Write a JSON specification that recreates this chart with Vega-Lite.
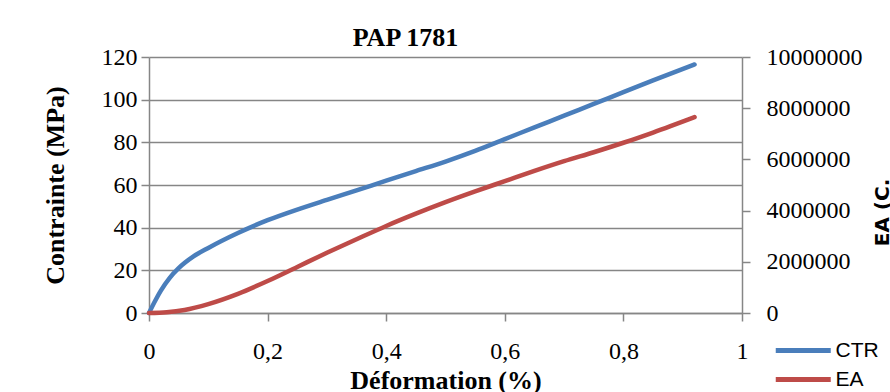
{
  "$schema": "https://vega.github.io/schema/vega-lite/v6.json",
  "width": 593,
  "height": 256,
  "autosize": {"type": "none"},
  "padding": {"left": 149, "top": 57, "right": 148, "bottom": 79},
  "background": "white",
  "title": {
    "text": "PAP 1781",
    "font": "Liberation Serif",
    "fontSize": 26,
    "fontWeight": "bold",
    "color": "black",
    "anchor": "middle",
    "dx": -40,
    "offset": -6
  },
  "data": {
    "values": [
      {"deformation": 0, "serie": "CTR", "valeur": 0},
      {"deformation": 0.01, "serie": "CTR", "valeur": 5.5},
      {"deformation": 0.02, "serie": "CTR", "valeur": 10.5},
      {"deformation": 0.035, "serie": "CTR", "valeur": 16.5},
      {"deformation": 0.05, "serie": "CTR", "valeur": 21},
      {"deformation": 0.075, "serie": "CTR", "valeur": 26.5},
      {"deformation": 0.1, "serie": "CTR", "valeur": 30.5},
      {"deformation": 0.15, "serie": "CTR", "valeur": 37.5},
      {"deformation": 0.2, "serie": "CTR", "valeur": 43.5},
      {"deformation": 0.25, "serie": "CTR", "valeur": 48.5},
      {"deformation": 0.3, "serie": "CTR", "valeur": 53},
      {"deformation": 0.35, "serie": "CTR", "valeur": 57.5},
      {"deformation": 0.4, "serie": "CTR", "valeur": 62},
      {"deformation": 0.45, "serie": "CTR", "valeur": 66.5},
      {"deformation": 0.5, "serie": "CTR", "valeur": 71},
      {"deformation": 0.55, "serie": "CTR", "valeur": 76},
      {"deformation": 0.6, "serie": "CTR", "valeur": 81.5},
      {"deformation": 0.65, "serie": "CTR", "valeur": 87},
      {"deformation": 0.7, "serie": "CTR", "valeur": 92.5},
      {"deformation": 0.75, "serie": "CTR", "valeur": 98},
      {"deformation": 0.8, "serie": "CTR", "valeur": 103.5},
      {"deformation": 0.85, "serie": "CTR", "valeur": 109},
      {"deformation": 0.92, "serie": "CTR", "valeur": 116.5},
      {"deformation": 0, "serie": "EA", "valeur": 0},
      {"deformation": 0.03, "serie": "EA", "valeur": 30000},
      {"deformation": 0.06, "serie": "EA", "valeur": 120000},
      {"deformation": 0.1, "serie": "EA", "valeur": 350000},
      {"deformation": 0.15, "serie": "EA", "valeur": 750000},
      {"deformation": 0.2, "serie": "EA", "valeur": 1250000},
      {"deformation": 0.25, "serie": "EA", "valeur": 1800000},
      {"deformation": 0.3, "serie": "EA", "valeur": 2350000},
      {"deformation": 0.35, "serie": "EA", "valeur": 2880000},
      {"deformation": 0.4, "serie": "EA", "valeur": 3400000},
      {"deformation": 0.45, "serie": "EA", "valeur": 3880000},
      {"deformation": 0.5, "serie": "EA", "valeur": 4330000},
      {"deformation": 0.55, "serie": "EA", "valeur": 4750000},
      {"deformation": 0.6, "serie": "EA", "valeur": 5150000},
      {"deformation": 0.65, "serie": "EA", "valeur": 5550000},
      {"deformation": 0.7, "serie": "EA", "valeur": 5930000},
      {"deformation": 0.75, "serie": "EA", "valeur": 6280000},
      {"deformation": 0.8, "serie": "EA", "valeur": 6650000},
      {"deformation": 0.85, "serie": "EA", "valeur": 7050000},
      {"deformation": 0.92, "serie": "EA", "valeur": 7650000}
    ]
  },
  "encoding": {
    "x": {
      "field": "deformation",
      "type": "quantitative",
      "scale": {"domain": [0, 1], "nice": false, "zero": true},
      "axis": {
        "title": "Déformation (%)",
        "values": [0, 0.2, 0.4, 0.6, 0.8, 1],
        "labelExpr": "replace(format(datum.value, '~g'), '.', ',')",
        "grid": false,
        "tickSize": 8,
        "labelPadding": 18,
        "titleY": 75,
        "titleBaseline": "alphabetic"
      }
    },
    "color": {
      "field": "serie",
      "type": "nominal",
      "scale": {"domain": ["CTR", "EA"], "range": ["#4A7EBB", "#BE4B48"]},
      "legend": {
        "title": null,
        "orient": "none",
        "legendX": 624,
        "legendY": 277,
        "symbolType": "M-1,0H3",
        "symbolSize": 756,
        "symbolStrokeWidth": 5,
        "labelFont": "Liberation Sans",
        "labelFontSize": 21,
        "labelColor": "black",
        "labelOffset": 29.5,
        "rowPadding": 2
      }
    }
  },
  "layer": [
    {
      "transform": [{"filter": "datum.serie === 'CTR'"}],
      "mark": {"type": "line", "interpolate": "monotone", "strokeWidth": 4.5, "strokeCap": "round"},
      "encoding": {
        "y": {
          "field": "valeur",
          "type": "quantitative",
          "scale": {"domain": [0, 120], "nice": false},
          "axis": {
            "title": "Contrainte (MPa)",
            "orient": "left",
            "values": [0, 20, 40, 60, 80, 100, 120],
            "grid": true,
            "tickSize": 8,
            "labelPadding": 4,
            "titleX": -94,
            "titleY": 128,
            "titleAngle": 270,
            "titleBaseline": "middle",
            "titleAlign": "center"
          }
        }
      }
    },
    {
      "transform": [{"filter": "datum.serie === 'EA'"}],
      "mark": {"type": "line", "interpolate": "monotone", "strokeWidth": 4.5, "strokeCap": "round"},
      "encoding": {
        "y": {
          "field": "valeur",
          "type": "quantitative",
          "scale": {"domain": [0, 10000000], "nice": false},
          "axis": {
            "title": "EA (C.",
            "orient": "right",
            "values": [0, 2000000, 4000000, 6000000, 8000000, 10000000],
            "format": "d",
            "grid": false,
            "tickSize": 8,
            "labelPadding": 16,
            "titleFont": "DejaVu Sans",
            "titleFontSize": 20,
            "titleX": 140,
            "titleY": 155,
            "titleAngle": 270,
            "titleBaseline": "middle",
            "titleAlign": "center"
          }
        }
      }
    }
  ],
  "resolve": {"scale": {"y": "independent"}},
  "config": {
    "view": {"stroke": null},
    "axis": {
      "labelFont": "Liberation Serif",
      "labelFontSize": 24,
      "labelColor": "black",
      "titleFont": "Liberation Serif",
      "titleFontSize": 26,
      "titleFontWeight": "bold",
      "titleColor": "black",
      "domainColor": "#868686",
      "domainWidth": 1.5,
      "tickColor": "#868686",
      "tickWidth": 1.5,
      "gridColor": "#868686",
      "gridWidth": 1.5,
      "gridOpacity": 1,
      "labelFlush": false,
      "labelOverlap": false
    }
  }
}
